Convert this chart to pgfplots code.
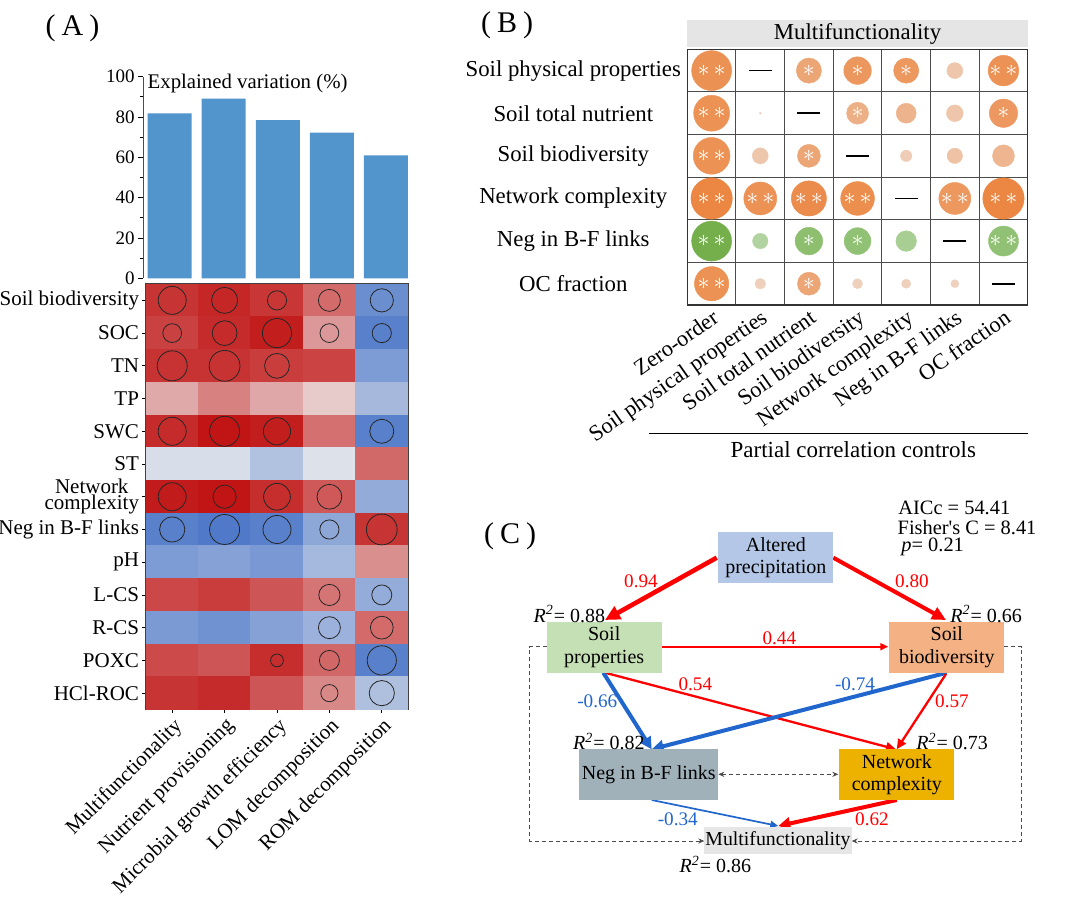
\documentclass[border=0pt]{standalone}
\usepackage{pgfplots}
\pgfplotsset{compat=1.18}
\usepackage{fontspec}
\setmainfont{Liberation Serif}
\usetikzlibrary{arrows.meta}

\definecolor{barblue}{RGB}{82,148,204}
\definecolor{orHi}{RGB}{235,132,62}
\definecolor{orLo}{RGB}{238,214,198}
\definecolor{grHi}{RGB}{112,173,71}
\definecolor{grLo}{RGB}{200,225,190}
\definecolor{semred}{RGB}{255,0,0}
\definecolor{semblue}{RGB}{33,102,204}
\definecolor{boxblue}{RGB}{180,199,231}
\definecolor{boxgreen}{RGB}{197,224,180}
\definecolor{boxorange}{RGB}{244,177,131}
\definecolor{boxgray}{RGB}{160,177,186}
\definecolor{boxgold}{RGB}{237,178,0}
\definecolor{boxlight}{RGB}{231,230,230}

\newcommand{\fsz}[1]{\fontsize{#1}{#1}\selectfont}

\begin{document}
\begin{tikzpicture}
\path[use as bounding box] (0,0) rectangle (540pt,449.5pt);

% ---------- (A) explained variation ----------
\begin{axis}[
  at={(71.5pt,310.35pt)}, anchor=south west,
  scale only axis, width=132.5pt, height=100.8pt,
  xmin=-0.494, xmax=4.41, ymin=0, ymax=100,
  axis x line=none, axis y line*=left,
  ybar, bar width=22pt, clip=false,
  ytick={0,20,...,100}, minor y tick num=1,
  tick align=outside, major tick length=2.5pt, minor tick length=1.3pt,
  tick style={black, line width=0.4pt},
  axis line style={black!70, line width=0.5pt},
  /pgf/number format/assume math mode=true,
  yticklabel style={font=\fsz{9.5}, inner sep=1.5pt},
]
\addplot[fill=barblue, draw=none] coordinates {(0,81.8) (1,89.1) (2,78.4) (3,72.2) (4,61.0)};
\node[anchor=west, inner sep=0, font=\fsz{10.4}] at (rel axis cs:0.016,0.967) {Explained variation (\%)};
\end{axis}

% ---------- (A) correlation heatmap ----------
\begin{axis}[
  at={(73pt,94.75pt)}, anchor=south west,
  scale only axis, width=131pt, height=212.75pt,
  xmin=-0.5, xmax=4.5, ymin=-0.5, ymax=12.5, y dir=reverse,
  colormap={corr}{rgb255(0cm)=(59,106,196); rgb255(1cm)=(238,238,238); rgb255(2cm)=(192,16,16)},
  point meta min=-1, point meta max=1,
  xtick={0,...,4}, ytick={0,...,12},
  xticklabels={Multifunctionality, Nutrient provisioning, Microbial growth efficiency, LOM decomposition, ROM decomposition},
  yticklabels={Soil biodiversity, SOC, TN, TP, SWC, ST, {Network\\complexity}, Neg in B-F links, pH, L-CS, R-CS, POXC, HCl-ROC},
  tick pos=left, tick align=outside, major tick length=1.8pt,
  tick style={black, line width=0.4pt},
  axis line style={black!75, line width=0.6pt},
  xticklabel style={rotate=45, anchor=north east, font=\fsz{10.5}, inner sep=1pt},
  yticklabel style={font=\fontsize{10.5}{8}\selectfont, align=center, inner sep=1.5pt},
]
\addplot[matrix plot*, mesh/cols=5, point meta=explicit] table[meta=v] {
x y v
0 0 0.84
1 0 0.90
2 0 0.83
3 0 0.59
4 0 -0.73
0 1 0.78
1 1 0.88
2 1 0.94
3 1 0.39
4 1 -0.83
0 2 0.85
1 2 0.85
2 2 0.80
3 2 0.77
4 2 -0.63
0 3 0.31
1 3 0.49
2 3 0.32
3 3 0.16
4 3 -0.40
0 4 0.88
1 4 0.98
2 4 0.94
3 4 0.57
4 4 -0.83
0 5 -0.12
1 5 -0.12
2 5 -0.34
3 5 -0.10
4 5 0.60
0 6 0.95
1 6 0.98
2 6 0.87
3 6 0.67
4 6 -0.51
0 7 -0.83
1 7 -0.88
2 7 -0.83
3 7 -0.54
4 7 0.84
0 8 -0.63
1 8 -0.58
2 8 -0.65
3 8 -0.41
4 8 0.43
0 9 0.75
1 9 0.80
2 9 0.69
3 9 0.55
4 9 -0.50
0 10 -0.64
1 10 -0.70
2 10 -0.58
3 10 -0.46
4 10 0.59
0 11 0.74
1 11 0.69
2 11 0.87
3 11 0.61
4 11 -0.83
0 12 0.84
1 12 0.88
2 12 0.69
3 12 0.46
4 12 -0.35
};
% significance circles, radius in pt
\addplot[scatter, only marks, mark=o, point meta=0,
  scatter/use mapped color={draw=black!85, fill=none},
  mark options={line width=0.4pt},
  visualization depends on={\thisrow{r}\as\rad},
  scatter/@pre marker code/.append style={/tikz/mark size=\rad}] table {
x y r
0 0 7.0
1 0 6.5
2 0 4.8
3 0 5.5
4 0 5.8
0 1 4.7
1 1 6.2
2 1 7.3
3 1 4.7
4 1 4.8
0 2 7.5
1 2 7.7
2 2 6.2
0 4 7.0
1 4 7.5
2 4 6.8
4 4 6.0
0 6 7.0
1 6 5.8
2 6 6.7
3 6 6.2
0 7 6.3
1 7 7.5
2 7 7.0
3 7 4.8
4 7 7.7
3 9 5.3
4 9 5.0
3 10 5.5
4 10 5.7
2 11 3.2
3 11 5.0
4 11 7.3
3 12 4.3
4 12 6.3
};
\end{axis}

% ---------- (B) partial correlations ----------
\begin{axis}[
  at={(343.65pt,297pt)}, anchor=south west,
  scale only axis, width=170.25pt, height=127.85pt,
  xmin=0.5, xmax=7.5, ymin=0.5, ymax=6.5, y dir=reverse,
  point meta min=0, point meta max=1,
  xtick={1,...,7}, ytick={1,...,6},
  xticklabels={Zero-order, Soil physical properties, Soil total nutrient, Soil biodiversity, Network complexity, Neg in B-F links, OC fraction},
  yticklabels={Soil physical properties, Soil total nutrient\hspace{18pt}, Soil biodiversity, Network complexity, Neg in B-F links, OC fraction},
  minor xtick={1.5,2.5,...,6.5}, minor ytick={1.5,2.5,...,5.5},
  xminorgrids, yminorgrids, minor grid style={black!70, line width=0.5pt},
  major tick length=0pt, minor tick length=0pt,
  axis line style={black!80, line width=0.6pt},
  xticklabel style={rotate=35, anchor=north east, font=\fsz{11.2}, inner sep=1pt},
  yticklabel style={anchor=center, xshift=-57pt, font=\fsz{11.4}},
  clip=false,
]
% orange circles: r = radius (pt), v = strength (percent)
\addplot[scatter, only marks, mark=*, point meta=0,
  mark options={line width=0.2pt},
  visualization depends on={\thisrow{r}\as\rad},
  visualization depends on={\thisrow{v}\as\val},
  scatter/use mapped color={draw=orHi!\val!orLo, fill=orHi!\val!orLo},
  scatter/@pre marker code/.append style={/tikz/mark size=\rad}] table {
x y r v
1 1 10.0 84
3 1 6.3 59
4 1 6.9 77
5 1 6.3 76
6 1 4.0 20
7 1 7.65 83
1 2 9.0 83
2 2 0.5 5
4 2 5.5 47
5 2 5.0 43
6 2 4.2 20
7 2 7.1 75
1 3 9.2 83
2 3 4.0 20
3 3 5.75 59
5 3 2.85 12
6 3 3.85 24
7 3 5.5 40
1 4 10.35 96
2 4 8.25 83
3 4 8.8 90
4 4 8.45 88
6 4 8.0 76
7 4 10.35 96
1 6 8.6 83
2 6 2.7 7
3 6 5.75 59
4 6 2.5 7
5 6 2.3 7
6 6 2.0 7
};
% green circles
\addplot[scatter, only marks, mark=*, point meta=0,
  mark options={line width=0.2pt},
  visualization depends on={\thisrow{r}\as\rad},
  visualization depends on={\thisrow{v}\as\val},
  scatter/use mapped color={draw=grHi!\val!grLo, fill=grHi!\val!grLo},
  scatter/@pre marker code/.append style={/tikz/mark size=\rad}] table {
x y r v
1 5 10.0 96
2 5 3.85 26
3 5 6.9 66
4 5 6.7 62
5 5 5.15 36
7 5 7.5 62
};
% significance stars
\addplot[only marks, mark=none, nodes near coords={$\ast\,\ast$}, nodes near coords align=center,
  every node near coord/.style={text=white, font=\fsz{11.5}, inner sep=0pt}]
  coordinates {(1,1) (7,1) (1,2) (1,3) (1,4) (2,4) (3,4) (4,4) (6,4) (7,4) (1,5) (7,5) (1,6)};
\addplot[only marks, mark=none, nodes near coords={$\ast$}, nodes near coords align=center,
  every node near coord/.style={text=white, font=\fsz{11.5}, inner sep=0pt}]
  coordinates {(3,1) (4,1) (5,1) (4,2) (7,2) (3,3) (3,5) (4,5) (3,6)};
% diagonal dashes
\addplot[only marks, mark=-, mark size=5.75pt, mark options={line width=0.85pt, black}]
  coordinates {(2,1) (3,2) (4,3) (5,4) (6,5) (7,6)};
\node[anchor=south, fill=black!10, minimum width=170.25pt, minimum height=13.85pt, inner sep=0pt,
  font=\fsz{11.4}, yshift=0.8pt] at (axis description cs:0.5,1) {Multifunctionality};
\draw[line width=0.6pt] (axis description cs:-0.1125,-0.5025) -- (axis description cs:1,-0.5025);
\node[font=\fsz{11.5}] at (axis description cs:0.4875,-0.567) {Partial correlation controls};
\end{axis}

% ---------- (C) structural equation model, pixel grid ----------
\begin{axis}[
  at={(0pt,0pt)}, anchor=south west, scale only axis,
  width=540pt, height=449.5pt,
  xmin=0, xmax=1080, ymin=0, ymax=899, y dir=reverse,
  hide axis, clip=false,
]
% dashed covariance / direct paths
\addplot[black!70, line width=0.5pt, dash pattern=on 2pt off 1.5pt, -{Stealth[length=3pt,width=2.6pt]}]
  coordinates {(546.7,646.7) (529.3,646.7) (529.3,841) (704.3,841)};
\addplot[black!70, line width=0.5pt, dash pattern=on 2pt off 1.5pt, -{Stealth[length=3pt,width=2.6pt]}]
  coordinates {(1004.3,646.7) (1021.7,646.7) (1021.7,841) (851.7,841)};
\addplot[black!70, line width=0.5pt, dash pattern=on 2pt off 1.5pt, {Stealth[length=3pt,width=2.6pt]}-{Stealth[length=3pt,width=2.6pt]}]
  coordinates {(718.3,774.3) (838.3,774.3)};
% paths
\addplot[semred, line width=2.3pt, -{Triangle[length=7.5pt,width=7pt]}] coordinates {(716.7,557.7) (605,620)};
\addplot[semred, line width=2pt, -{Triangle[length=7pt,width=6.5pt]}] coordinates {(833.3,557.7) (946,620)};
\addplot[semred, line width=0.85pt, -{Triangle[length=4pt,width=3.5pt]}] coordinates {(661.7,646.7) (888.3,646.7)};
\addplot[semred, line width=1.15pt, -{Triangle[length=5pt,width=4.5pt]}] coordinates {(605,672.7) (896,749.3)};
\addplot[semblue, line width=2pt, -{Triangle[length=6pt,width=6pt]}] coordinates {(603.3,672.7) (651.7,749.3)};
\addplot[semblue, line width=2pt, -{Triangle[length=6pt,width=6pt]}] coordinates {(946.7,672.7) (651.7,749.3)};
\addplot[semred, line width=1.15pt, -{Triangle[length=5pt,width=4.5pt]}] coordinates {(946,674) (896.7,749.3)};
\addplot[semblue, line width=0.85pt, -{Triangle[length=4pt,width=3.5pt]}] coordinates {(651.7,800) (778.3,826)};
\addplot[semred, line width=2pt, -{Triangle[length=6pt,width=6pt]}] coordinates {(896.7,800) (778.3,826)};
% boxes
\node[fill=boxblue, minimum width=57.5pt, minimum height=25.5pt, inner sep=0, align=center,
  font=\fontsize{10}{11.3}\selectfont] at (axis cs:775.8,557.8) {Altered\\precipitation};
\node[fill=boxgreen, minimum width=57.5pt, minimum height=25.5pt, inner sep=0, align=center,
  font=\fontsize{10}{11.3}\selectfont] at (axis cs:604.2,647.2) {Soil\\properties};
\node[fill=boxorange, minimum width=57.5pt, minimum height=25.5pt, inner sep=0, align=center,
  font=\fontsize{10}{11.3}\selectfont] at (axis cs:946.8,647.2) {Soil\\biodiversity};
\node[fill=boxgray, minimum width=69.5pt, minimum height=25.6pt, inner sep=0, align=center,
  font=\fsz{10}] at (axis cs:648.8,774.3) {Neg in B-F links};
\node[fill=boxgold, minimum width=57.5pt, minimum height=25.4pt, inner sep=0, align=center,
  font=\fontsize{10}{11.3}\selectfont] at (axis cs:896.8,774.7) {Network\\complexity};
\node[fill=boxlight, minimum width=73.7pt, minimum height=13.5pt, inner sep=0,
  font=\fsz{9.9}] at (axis cs:778,840.8) {Multifunctionality};
% path coefficients
\node[text=semred, font=\fsz{9.6}] at (axis cs:641,581.7) {0.94};
\node[text=semred, font=\fsz{9.6}] at (axis cs:912,581.7) {0.80};
\node[text=semred, font=\fsz{9.6}] at (axis cs:779.3,638.3) {0.44};
\node[text=semred, font=\fsz{9.6}] at (axis cs:695.3,684) {0.54};
\node[text=semblue, font=\fsz{9.6}] at (axis cs:597.3,701.7) {-0.66};
\node[text=semblue, font=\fsz{9.6}] at (axis cs:855,684) {-0.74};
\node[text=semred, font=\fsz{9.6}] at (axis cs:952,701.7) {0.57};
\node[text=semblue, font=\fsz{9.6}] at (axis cs:677.8,819.3) {-0.34};
\node[text=semred, font=\fsz{9.6}] at (axis cs:872,819.3) {0.62};
% explained variance
\node[anchor=west, inner sep=0, font=\fsz{10}] at (axis cs:533.3,614) {\textit{R}\textsuperscript{\textit{2}}= 0.88};
\node[anchor=west, inner sep=0, font=\fsz{10}] at (axis cs:950,614) {\textit{R}\textsuperscript{\textit{2}}= 0.66};
\node[anchor=west, inner sep=0, font=\fsz{10}] at (axis cs:572.7,741.7) {\textit{R}\textsuperscript{\textit{2}}= 0.82};
\node[anchor=west, inner sep=0, font=\fsz{10}] at (axis cs:916,741.7) {\textit{R}\textsuperscript{\textit{2}}= 0.73};
\node[anchor=west, inner sep=0, font=\fsz{10}] at (axis cs:679.3,864.3) {\textit{R}\textsuperscript{\textit{2}}= 0.86};
% model fit
\node[anchor=west, inner sep=0, font=\fsz{10.2}] at (axis cs:898,508) {AICc = 54.41};
\node[anchor=west, inner sep=0, font=\fsz{10.2}] at (axis cs:897.3,527.3) {Fisher{\addfontfeature{Ligatures=TeXOff}'}s C = 8.41};
\node[anchor=west, inner sep=0, font=\fsz{10.2}] at (axis cs:901,546.7) {\textit{p}= 0.21};
% panel letters
\node[font=\fsz{15}] at (axis cs:72.5,28) {(\hspace{3pt}A\hspace{3pt})};
\node[font=\fsz{15}] at (axis cs:507,25) {(\hspace{3pt}B\hspace{3pt})};
\node[font=\fsz{15}] at (axis cs:510,536) {(\hspace{3pt}C\hspace{3pt})};
\end{axis}
\end{tikzpicture}
\end{document}
